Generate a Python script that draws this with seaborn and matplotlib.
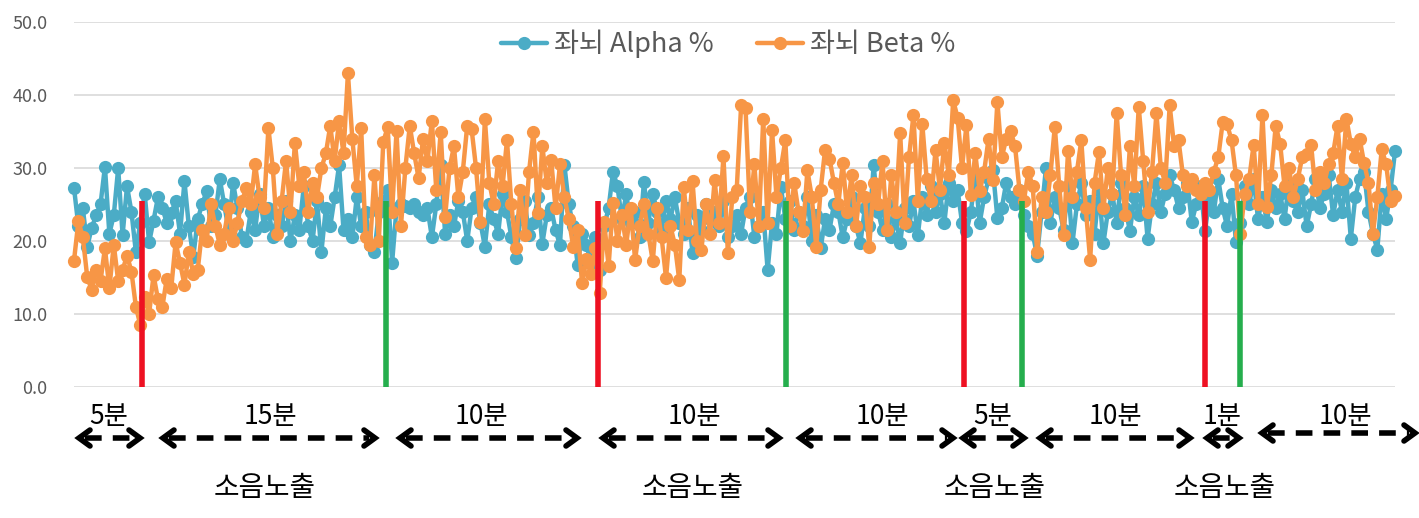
import pandas as pd
import matplotlib
matplotlib.use("Agg")
import matplotlib.pyplot as plt
import seaborn as sns

# ---------------------------------------------------------------------------
# Datos (un punto por muestra)
# ---------------------------------------------------------------------------
alpha = [
    27.3, 22.0, 24.5, 19.2, 21.8, 23.5, 25.0, 30.2, 21.0, 23.5,
    30.0, 20.8, 27.5, 24.0, 18.5, 22.5, 26.5, 19.8, 22.8, 26.0,
    24.5, 22.5, 23.8, 25.5, 21.0, 28.2, 22.0, 17.8, 23.0, 25.0,
    26.8, 22.0, 23.5, 28.5, 25.0, 21.5, 28.0, 24.5, 20.5, 20.0,
    24.0, 21.5, 26.5, 22.0, 24.5, 20.5, 23.5, 22.0, 25.5, 20.0,
    23.5, 21.5, 27.5, 22.0, 20.0, 25.5, 18.5, 24.5, 22.0, 26.0,
    30.4, 21.5, 23.0, 20.5, 26.0, 22.0, 24.0, 19.5, 18.5, 24.0,
    25.5, 27.0, 17.0, 24.5, 25.0, 24.8, 24.5, 25.0, 24.0, 23.5,
    24.5, 20.5, 25.0, 30.4, 21.0, 23.5, 22.0, 25.5, 24.0, 20.0,
    24.5, 26.0, 22.5, 19.2, 25.0, 23.0, 21.0, 26.5, 24.0, 20.5,
    17.6, 23.0, 25.5, 20.8, 22.5, 26.0, 19.6, 23.5, 24.5, 21.5,
    19.4, 30.4, 25.0, 22.0, 16.7, 21.0, 19.4, 17.0, 20.5, 16.0,
    22.0, 24.5, 29.5, 27.5, 23.0, 26.4, 22.5, 24.0, 20.5, 28.1,
    22.5, 26.5, 24.0, 21.5, 25.5, 23.0, 26.0, 22.5, 21.0, 24.5,
    18.3, 23.5, 21.5, 25.0, 23.0, 24.0, 22.0, 25.5, 20.5, 22.0,
    23.5, 21.0, 24.5, 26.0, 20.5, 22.0, 24.0, 16.0, 22.5, 21.0,
    27.4, 23.0, 25.5, 21.5, 24.0, 22.0, 26.0, 20.0, 23.5, 19.0,
    23.0, 21.5, 25.0, 24.0, 20.5, 23.0, 26.0, 22.0, 19.7, 24.5,
    22.0, 30.4, 24.0, 21.5, 25.0, 20.5, 23.0, 19.7, 24.5, 22.0,
    25.5, 20.8, 26.0, 23.5, 27.5, 24.0, 26.5, 22.5, 28.0, 25.5,
    27.0, 22.5, 21.3, 24.0, 29.0, 22.5, 26.0, 28.5, 29.7, 23.1,
    24.5, 28.0, 26.0, 25.0, 27.0, 23.5, 22.0, 21.0, 18.0, 24.0,
    30.0, 22.5, 26.0, 24.5, 21.5, 27.5, 19.7, 25.0, 28.0, 23.5,
    25.5, 21.0, 27.0, 19.7, 24.0, 26.5, 22.5, 28.0, 24.5, 21.3,
    26.0, 23.5, 27.5, 20.3, 25.0, 28.0, 24.0, 26.5, 29.0, 27.0,
    24.5, 26.0, 28.0, 22.6, 25.0, 27.5, 21.3, 26.0, 24.0, 28.5,
    24.5, 22.0, 26.5, 19.9, 22.5, 27.5, 25.0, 28.5, 23.0, 26.0,
    22.6, 27.0, 24.5, 26.5, 23.0, 28.0, 25.5, 24.0, 27.0, 22.0,
    25.0, 28.5, 24.5, 26.5, 29.0, 23.5, 27.0, 24.0, 28.0, 20.3,
    26.0, 28.5, 29.5, 24.0, 21.0, 18.8, 26.5, 23.0, 27.0, 32.3,
]

beta = [
    17.3, 22.7, 20.5, 15.0, 13.3, 16.0, 14.5, 19.0, 13.5, 19.5,
    14.5, 16.0, 18.0, 15.8, 11.0, 8.5, 12.3, 10.0, 15.3, 12.0,
    11.0, 14.8, 13.5, 19.8, 17.0, 14.0, 18.5, 15.5, 16.0, 21.5,
    20.0, 25.0, 22.0, 19.5, 21.0, 24.5, 20.0, 22.5, 25.5, 27.2,
    25.0, 30.5, 26.0, 24.5, 35.5, 30.0, 21.0, 25.5, 31.0, 24.0,
    33.5, 27.5, 29.5, 24.0, 28.0, 26.0, 30.0, 32.0, 35.8, 31.0,
    36.5, 32.0, 43.0, 34.0, 27.5, 35.5, 20.5, 19.4, 29.0, 20.0,
    33.6, 35.6, 24.0, 35.1, 22.0, 30.0, 35.8, 32.0, 28.6, 34.0,
    31.0, 36.5, 27.0, 35.0, 23.3, 30.0, 33.0, 26.0, 29.5, 35.8,
    35.3, 30.0, 22.6, 36.7, 28.0, 25.0, 31.0, 27.5, 33.8, 25.0,
    19.0, 27.0, 20.8, 29.5, 35.0, 23.9, 33.0, 28.0, 31.1, 24.5,
    30.5, 26.0, 23.0, 19.2, 21.5, 14.2, 17.5, 15.5, 19.0, 12.9,
    22.6, 16.5, 25.2, 20.0, 23.5, 19.5, 24.5, 17.4, 22.0, 25.0,
    21.0, 17.2, 24.5, 20.5, 14.9, 22.0, 19.5, 14.6, 27.4, 21.5,
    28.2, 20.0, 18.7, 25.0, 21.0, 28.3, 22.5, 31.6, 18.3, 26.0,
    27.0, 38.6, 38.2, 24.0, 30.5, 22.0, 36.8, 22.4, 35.2, 26.0,
    30.0, 33.8, 22.0, 28.0, 24.0, 21.3, 29.7, 26.0, 19.2, 27.0,
    32.5, 31.3, 28.0, 25.0, 30.7, 24.0, 29.0, 22.0, 27.5, 26.0,
    19.2, 28.0, 25.0, 31.0, 21.5, 29.0, 24.0, 34.8, 22.4, 31.5,
    37.3, 25.5, 36.1, 28.5, 25.5, 32.5, 27.0, 33.5, 29.0, 39.3,
    36.9, 30.0, 35.9, 26.3, 32.0, 26.8, 29.5, 34.0, 28.3, 39.1,
    31.5, 34.0, 35.1, 33.0, 27.0, 25.5, 29.5, 27.5, 18.5, 26.0,
    24.0, 29.0, 35.7, 27.5, 20.8, 32.4, 26.0, 29.5, 33.8, 24.5,
    17.4, 28.0, 32.2, 24.5, 30.0, 26.5, 37.5, 29.0, 23.5, 33.0,
    27.5, 38.4, 31.0, 24.0, 29.5, 37.5, 30.0, 28.0, 38.6, 33.0,
    33.8, 29.0, 27.5, 28.5, 27.0, 26.5, 28.0, 27.0, 29.5, 31.5,
    36.3, 36.0, 33.8, 29.0, 21.0, 26.5, 28.5, 33.2, 25.0, 37.3,
    24.6, 29.0, 35.8, 33.3, 27.5, 30.0, 26.0, 28.5, 31.5, 31.9,
    33.2, 27.0, 29.5, 28.0, 30.5, 32.0, 35.8, 28.5, 36.8, 33.3,
    31.5, 34.0, 30.7, 28.0, 21.0, 26.0, 32.6, 30.5, 25.5, 26.1,
]

series_names = ["좌뇌 Alpha %", "좌뇌 Beta %"]
series_colors = ["#4BACC6", "#F79646"]

# Marcas verticales (índice de muestra): inicio y fin de la exposición al ruido
red_marks = [15.4, 118.5, 201.4, 255.9]
green_marks = [70.6, 161.2, 214.6, 264.0]
mark_height = 25.5

y_ticks = [0, 10, 20, 30, 40, 50]

# Anotaciones inferiores (posiciones en píxeles de la figura)
minute_labels = ["5분", "15분", "10분", "10분", "10분", "5분", "10분", "1분", "10분"]
minute_x = [109, 270, 481, 694, 882, 993, 1115, 1222, 1345]
arrow_spans = [(79, 140), (163, 375), (400, 577), (603, 779), (800, 953),
               (963, 1024), (1040, 1190), (1207, 1239), (1262, 1415)]
arrow_y = [438, 438, 438, 438, 438, 438, 438, 438, 433]
noise_label = "소음노출"
noise_x = [265, 693, 995, 1225]

# ---------------------------------------------------------------------------
# Configuración general
# ---------------------------------------------------------------------------
sns.set_style("white")
plt.rcParams["font.family"] = ["Noto Sans CJK KR", "DejaVu Sans"]

W, H = 1419, 518
fig = plt.figure(figsize=(W / 100, H / 100), dpi=100)
ax = fig.add_axes([74 / W, 1 - 386.7 / H, 1321 / W, 364.4 / H])

df = pd.DataFrame({
    "idx": list(range(len(alpha))) * 2,
    "value": alpha + beta,
    "serie": [series_names[0]] * len(alpha) + [series_names[1]] * len(beta),
})

sns.lineplot(data=df, x="idx", y="value", hue="serie", hue_order=series_names,
             palette=series_colors, marker="o", markersize=9.5,
             markeredgewidth=0, linewidth=3.2, ax=ax)
for line in ax.lines:
    line.set_clip_on(False)

ax.vlines(red_marks, 0, mark_height, colors="#EE1122", linewidth=4, zorder=5)
ax.vlines(green_marks, 0, mark_height, colors="#25AE4D", linewidth=4, zorder=5)

ax.set_xlim(0, len(alpha) - 1)
ax.set_ylim(0, 50)
ax.set_yticks(y_ticks)
ax.set_yticklabels([f"{v:.1f}" for v in y_ticks])
ax.set_xticks([])
ax.set_xlabel("")
ax.set_ylabel("")
ax.yaxis.grid(True, color="#D9D9D9", linewidth=1.2)
ax.set_axisbelow(True)
ax.tick_params(axis="y", length=0, pad=19, labelsize=13, labelcolor="#595959")
for s in ax.spines.values():
    s.set_visible(False)

leg = ax.legend(loc="center", bbox_to_anchor=(0.495, 0.94), ncol=2, frameon=False,
                fontsize=19.5, handlelength=1.7, handletextpad=0.25,
                columnspacing=1.6, title=None)
for t in leg.get_texts():
    t.set_color("#595959")

# Capa superpuesta en píxeles para las flechas y textos inferiores
ov = fig.add_axes([0, 0, 1, 1])
ov.set_xlim(0, W)
ov.set_ylim(H, 0)
ov.axis("off")

for lab, x in zip(minute_labels, minute_x):
    ov.text(x, 417, lab, ha="center", va="center", fontsize=19, color="black")

for (x0, x1), y in zip(arrow_spans, arrow_y):
    hl, hw = 11, 8
    ov.plot([x0 + 6, x1 - 6], [y, y], color="black", linewidth=4,
            linestyle=(0, (3, 2)), solid_capstyle="butt")
    ov.plot([x0 + hl, x0, x0 + hl], [y - hw, y, y + hw], color="black",
            linewidth=4, solid_joinstyle="miter")
    ov.plot([x1 - hl, x1, x1 - hl], [y - hw, y, y + hw], color="black",
            linewidth=4, solid_joinstyle="miter")

for x in noise_x:
    ov.text(x, 488, noise_label, ha="center", va="center", fontsize=20, color="black")

fig.savefig("out.png", dpi=100)
plt.close(fig)
